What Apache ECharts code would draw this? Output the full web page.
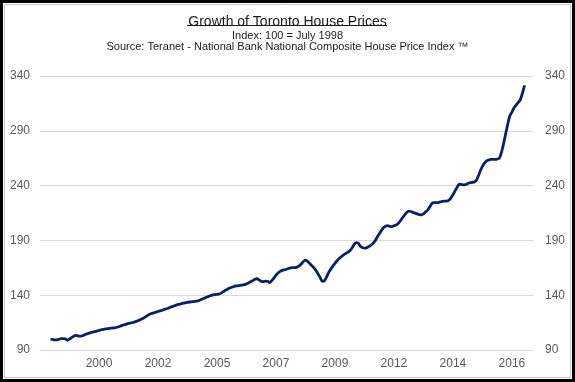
<!DOCTYPE html>
<html>
<head>
<meta charset="utf-8">
<script src="https://cdn.jsdelivr.net/npm/echarts@6/dist/echarts.min.js"></script>
<style>
html,body{margin:0;padding:0;background:#fff;}
#chart{width:575px;height:382px;}
</style>
</head>
<body>
<div id="chart"></div>
<script>
// Monthly index values, starting July 1998 (index 0) through April 2017
const startLabel = 'July 1998';
const priceIndex = [
  100.0, 99.6, 99.2, 99.3, 99.8, 100.3, 100.3, 100.2, 98.9, 100.0, 101.3, 102.6,
  103.4, 102.8, 102.6, 102.9, 103.6, 104.6, 105.2, 105.8, 106.3, 106.7, 107.2, 107.8,
  108.5, 108.9, 109.2, 109.5, 109.8, 110.0, 110.2, 110.5, 111.0, 111.7, 112.5, 113.0,
  113.6, 114.2, 114.6, 115.1, 115.7, 116.3, 117.1, 118.1, 119.0, 120.2, 121.4, 122.6,
  123.3, 123.9, 124.5, 125.1, 125.7, 126.3, 127.0, 127.6, 128.3, 129.1, 129.8, 130.5,
  131.2, 131.7, 132.2, 132.7, 133.1, 133.5, 133.8, 134.0, 134.2, 134.5, 134.9, 135.6,
  136.5, 137.3, 138.1, 138.9, 139.6, 140.2, 140.5, 140.8, 141.1, 141.9, 143.2, 144.5,
  145.5, 146.5, 147.3, 147.9, 148.4, 148.7, 149.0, 149.2, 149.6, 150.3, 151.2, 152.2,
  153.3, 154.5, 155.0, 154.0, 152.6, 152.4, 152.9, 152.6, 151.5, 153.3, 155.6, 158.2,
  160.2, 161.8, 162.7, 163.2, 163.7, 164.4, 165.0, 165.1, 165.1, 165.6, 166.7, 168.5,
  170.8, 172.0, 170.8, 169.0, 167.0, 165.0, 162.5, 159.3, 156.0, 152.7, 153.2, 156.5,
  160.6, 163.8, 166.5, 169.0, 171.4, 173.4, 175.1, 176.6, 177.9, 179.1, 180.4, 182.8,
  185.9, 188.0, 187.6, 184.8, 183.5, 182.9, 183.3, 184.3, 185.5, 187.2, 189.4, 192.8,
  195.8, 198.9, 201.5, 203.0, 203.4, 202.7, 202.6, 203.3, 204.1, 205.5, 207.7, 210.5,
  213.0, 215.5, 216.8, 216.4, 215.6, 214.9, 214.2, 213.6, 213.2, 214.2, 216.0, 217.6,
  220.5, 223.6, 224.5, 224.4, 224.5, 225.1, 225.6, 225.8, 225.9, 226.6, 228.6, 231.6,
  235.2, 238.6, 241.3, 241.2, 240.6, 241.0, 241.8, 242.6, 243.0, 243.2, 244.5, 248.5,
  253.6, 257.6, 260.6, 262.6, 263.4, 263.9, 264.0, 264.0, 264.2, 265.0, 270.0, 278.0,
  287.0, 296.0, 303.5, 307.0, 311.0, 313.5, 316.0, 318.5, 324.5, 331.5
];
// x tick labels (every 28 months starting at month index 23)
const xTickLabels = ['2000', '2002', '2005', '2007', '2009', '2012', '2014', '2016'];
const yTicks = [90, 140, 190, 240, 290, 340];

const titleText = 'Growth of Toronto House Prices';
const subText1 = 'Index: 100 = July 1998';
const subText2 = 'Source: Teranet - National Bank National Composite House Price Index \u2122';

const seriesData = priceIndex.map((v, i) => [i, v]);

const chart = echarts.init(document.getElementById('chart'), null, {renderer: 'canvas'});
const font = 'Liberation Sans, Arial, sans-serif';
const tickStart = 23, tickStep = 28;

chart.setOption({
  animation: false,
  backgroundColor: '#ffffff',
  title: [
    {text: titleText, left: 'center', top: 10,
     textStyle: {fontFamily: font, fontSize: 14, fontWeight: 'normal', color: '#1a1a1a'}},
    {text: subText1, left: 'center', top: 25,
     textStyle: {fontFamily: font, fontSize: 11, fontWeight: 'normal', color: '#1a1a1a'}},
    {text: subText2, left: 'center', top: 36,
     textStyle: {fontFamily: font, fontSize: 11, fontWeight: 'normal', color: '#1a1a1a'}}
  ],
  graphic: [
    {type: 'line', shape: {x1: 187, y1: 25.5, x2: 387, y2: 25.5}, style: {stroke: '#1a1a1a', lineWidth: 1}, silent: true},
    {type: 'rect', shape: {x: 1.5, y: 1.5, width: 572, height: 379}, style: {fill: null, stroke: '#000', lineWidth: 3}, silent: true},
    {type: 'rect', shape: {x: 4.5, y: 4.5, width: 566, height: 373}, style: {fill: null, stroke: '#c8c8c8', lineWidth: 1}, silent: true}
  ],
  grid: {left: 40, right: 42, top: 76, bottom: 32, containLabel: false},
  xAxis: {
    type: 'value',
    min: -5,
    max: 229,
    interval: tickStep,
    axisLine: {show: true, lineStyle: {color: '#d9d9d9', width: 1}},
    axisTick: {show: false},
    splitLine: {show: false},
    axisLabel: {
      showMinLabel: false,
      showMaxLabel: false,
      margin: 8,
      fontFamily: font, fontSize: 12, color: '#595959',
      formatter: function (val) {
        const k = Math.round((val - tickStart) / tickStep);
        return (k >= 0 && k < xTickLabels.length) ? xTickLabels[k] : '';
      }
    }
  },
  yAxis: [
    {type: 'value', position: 'left', min: yTicks[0], max: yTicks[yTicks.length - 1], interval: 50,
     axisLine: {show: false}, axisTick: {show: false},
     splitLine: {show: true, lineStyle: {color: '#d9d9d9', width: 1}},
     axisLabel: {margin: 10, fontFamily: font, fontSize: 12, color: '#595959'}},
    {type: 'value', position: 'right', min: yTicks[0], max: yTicks[yTicks.length - 1], interval: 50,
     axisLine: {show: false}, axisTick: {show: false},
     splitLine: {show: false},
     axisLabel: {margin: 12, fontFamily: font, fontSize: 12, color: '#595959'}}
  ],
  series: [{
    type: 'line',
    data: seriesData,
    yAxisIndex: 0,
    showSymbol: false,
    smooth: 0.3,
    lineStyle: {color: '#0b2063', width: 2.8},
    z: 5
  }]
});
</script>
</body>
</html>
